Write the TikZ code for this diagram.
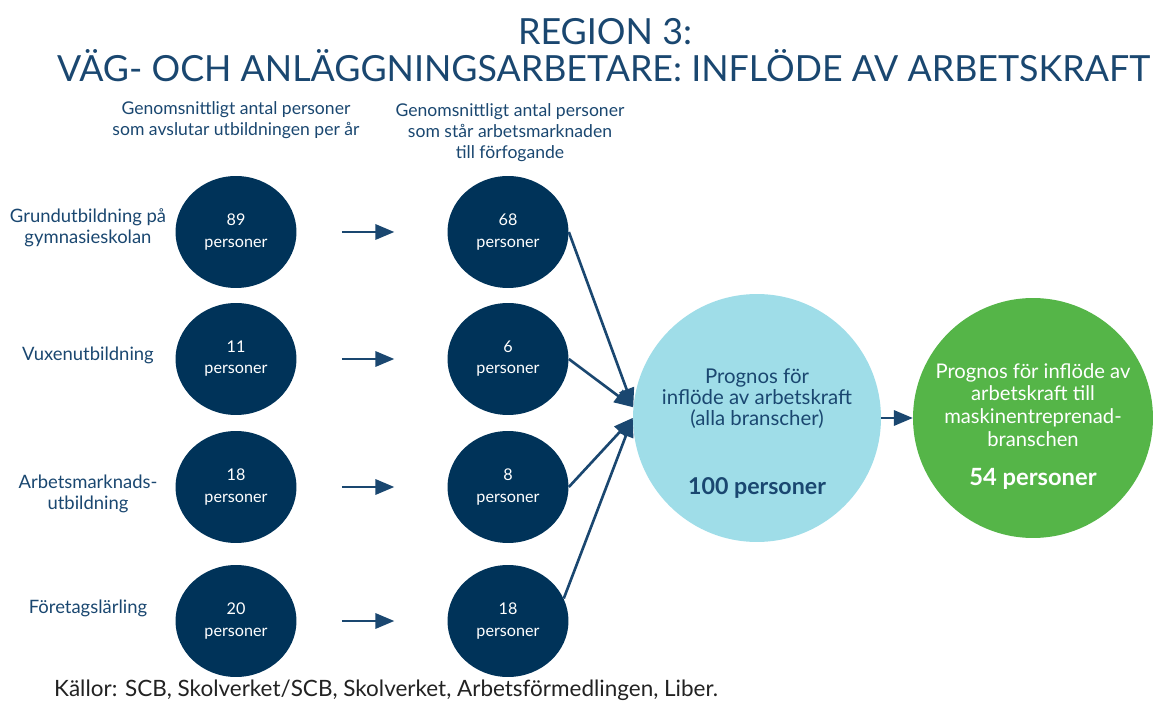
\documentclass[tikz,border=0pt]{standalone}
\usepackage{fontspec}
\setmainfont{Lato}
\usetikzlibrary{shapes.geometric, arrows, positioning}
\definecolor{navy}{HTML}{003359}
\definecolor{inkblue}{HTML}{1A4770}
\definecolor{skyblue}{HTML}{9FDDE8}
\definecolor{leafgreen}{HTML}{55B548}
\definecolor{sourcegray}{HTML}{222222}

\begin{document}
\begin{tikzpicture}[x=0.02cm, y=-0.02cm,
    count/.style={ellipse, fill=navy, minimum width=2.42cm, minimum height=2.24cm, inner sep=0pt, text=white, align=center, font=\fontsize{9.2}{12}\selectfont},
    rowlabel/.style={align=center, text=inkblue, font=\fontsize{10.5}{12}\selectfont},
    header/.style={align=center, text=inkblue, font=\fontsize{10}{12}\selectfont},
    total/.style={circle, fill=skyblue, minimum size=4.96cm, inner sep=0pt},
    forecast/.style={circle, fill=leafgreen, minimum size=4.8cm, inner sep=0pt},
    arrow/.style={-triangle 45, line width=1.5pt, draw=inkblue}
]
\useasboundingbox (0,0) rectangle (1153,702);

% titel
\node[anchor=base, text=inkblue] (title) at (605,45) {\resizebox{3.48cm}{\height}{\fontsize{20.5}{24}\selectfont REGION 3:}};
\node[anchor=base, text=inkblue] (subtitle) at (603.5,82) {\resizebox{21.86cm}{\height}{\fontsize{20.5}{24}\selectfont VÄG- OCH ANLÄGGNINGSARBETARE: INFLÖDE AV ARBETSKRAFT}};

% kolumnrubriker
\node[header] (head1) at (236,120) {Genomsnittligt antal personer\\som avslutar utbildningen per år};
\node[header] (head2) at (510,133) {Genomsnittligt antal personer\\som står arbetsmarknaden\\till förfogande};

% utbildningar
\node[rowlabel] (lab1) at (88,228) {Grundutbildning på\\gymnasieskolan};
\node[rowlabel] (lab2) at (88,355) {Vuxenutbildning};
\node[rowlabel] (lab3) at (88,494) {Arbetsmarknads-\\utbildning};
\node[rowlabel] (lab4) at (88,608) {Företagslärling};

\node[count] (grad1) at (236,232) {89\\personer};
\node[count] (grad2) at (236,359) {11\\personer};
\node[count] (grad3) at (236,487) {18\\personer};
\node[count] (grad4) at (236,621) {20\\personer};

\node[count] (avail1) at (508,232) {68\\personer};
\node[count] (avail2) at (508,359) {6\\personer};
\node[count] (avail3) at (508,487) {8\\personer};
\node[count] (avail4) at (508,621) {18\\personer};

% prognoser
\node[total] (total) at (757,418) {};
\node[align=center, text=inkblue, font=\fontsize{11.6}{12}\selectfont] (totaltext) at (757,399) {Prognos för\\inflöde av arbetskraft\\(alla branscher)};
\node[text=inkblue, font=\fontsize{13.2}{14}\bfseries] (totalnum) at (757,488) {100 personer};

\node[forecast] (machine) at (1033,418) {};
\node[align=center, text=white, font=\fontsize{11.5}{13}\selectfont] (machinetext) at (1033,405) {Prognos för inflöde av\\arbetskraft till\\maskinentreprenad-\\branschen};
\node[text=white, font=\fontsize{13.5}{14}\bfseries] (machinenum) at (1033,479) {54 personer};

% pilar
\draw[arrow, shorten <=0.9cm, shorten >=1.06cm] (grad1.east) -- (avail1.west);
\draw[arrow, shorten <=0.9cm, shorten >=1.06cm] (grad2.east) -- (avail2.west);
\draw[arrow, shorten <=0.9cm, shorten >=1.06cm] (grad3.east) -- (avail3.west);
\draw[arrow, shorten <=0.9cm, shorten >=1.06cm] (grad4.east) -- (avail4.west);

\draw[arrow] (avail1.east) -- (total.175);
\draw[arrow] (avail2.east) -- (total.175);
\draw[arrow] (avail3.east) -- (total.180);
\draw[arrow] (avail4.22) -- (total.180);
\draw[arrow] (total.east) -- (machine.west);

% källa
\node[anchor=west, text=sourcegray, font=\fontsize{12.8}{14}\selectfont] (source) at (48,690) {Källor: SCB, Skolverket/SCB, Skolverket, Arbetsförmedlingen, Liber.};
\end{tikzpicture}
\end{document}
